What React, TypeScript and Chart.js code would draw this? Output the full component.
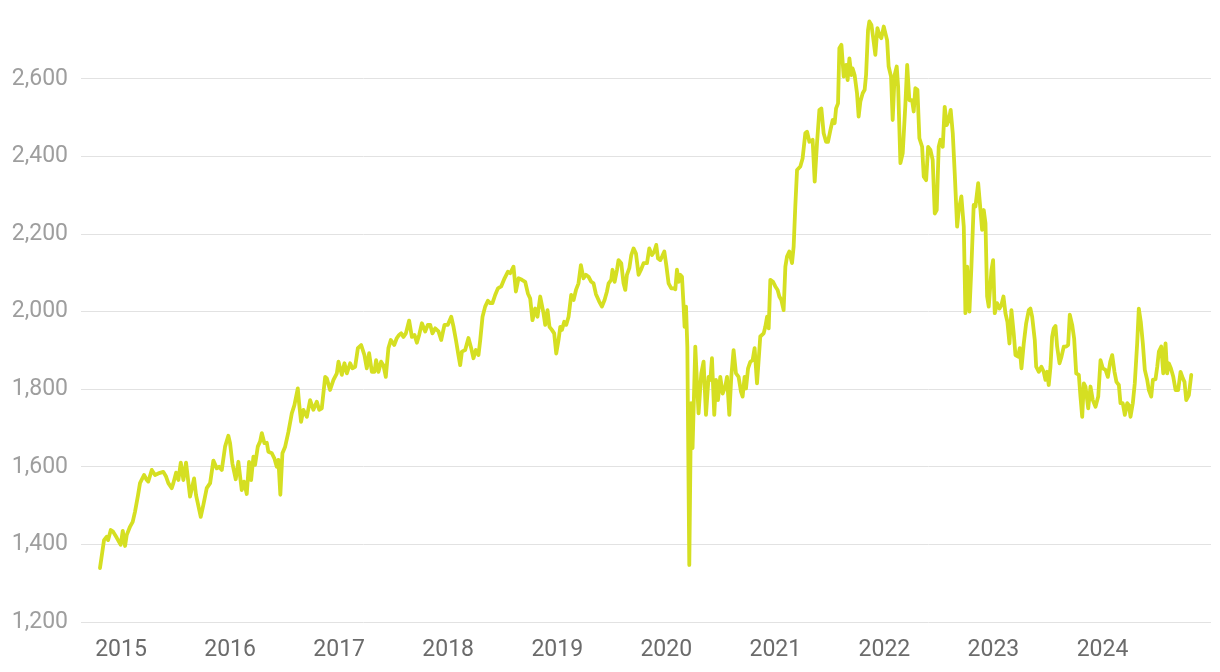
import React, { useEffect, useRef } from "react";
import { Chart, registerables } from "chart.js";

Chart.register(...registerables);

// Dates are decimal years (weekly observations), values are index levels.
const dates2015 = [
  2014.807, 2014.844, 2014.869, 2014.881, 2014.906, 2014.927, 2014.961, 2014.997,
  2015.016, 2015.037, 2015.052, 2015.083, 2015.107, 2015.128, 2015.156, 2015.174, 2015.211, 2015.236,
  2015.250, 2015.282, 2015.312, 2015.342, 2015.388, 2015.413, 2015.434, 2015.465, 2015.480, 2015.505,
  2015.526, 2015.548, 2015.572, 2015.596, 2015.633, 2015.670, 2015.688, 2015.731, 2015.755, 2015.786,
  2015.817, 2015.847, 2015.878, 2015.899, 2015.924, 2015.954, 2015.984,
];
const values2015 = [
  1339, 1411, 1420, 1411, 1437, 1433, 1417, 1399,
  1435, 1396, 1424, 1446, 1458, 1484, 1527, 1558, 1579, 1566,
  1562, 1592, 1579, 1583, 1587, 1575, 1558, 1545, 1558, 1585,
  1566, 1611, 1566, 1611, 1523, 1570, 1527, 1471, 1502, 1545,
  1558, 1616, 1596, 1600, 1592, 1652, 1680,
];

const dates2016 = [
  2016.000, 2016.021, 2016.052, 2016.076, 2016.107, 2016.128, 2016.153, 2016.174, 2016.193, 2016.214,
  2016.229, 2016.254, 2016.275, 2016.291, 2016.315, 2016.337, 2016.351, 2016.383, 2016.406, 2016.428,
  2016.443, 2016.461, 2016.480, 2016.505, 2016.535, 2016.566, 2016.590, 2016.621, 2016.633, 2016.651,
  2016.672, 2016.704, 2016.734, 2016.764, 2016.795, 2016.817, 2016.841, 2016.872, 2016.887, 2016.917,
  2016.948, 2016.979, 2016.994,
];
const values2016 = [
  1661, 1609, 1568, 1613, 1540, 1562, 1530, 1613, 1566, 1626,
  1605, 1652, 1665, 1687, 1661, 1662, 1639, 1635, 1622, 1600,
  1618, 1528, 1635, 1652, 1690, 1738, 1759, 1802, 1764, 1716,
  1747, 1729, 1772, 1747, 1768, 1747, 1751, 1832, 1828, 1798,
  1824, 1841, 1871,
];

const dates2017 = [
  2017.025, 2017.049, 2017.071, 2017.101, 2017.122, 2017.147, 2017.172, 2017.202, 2017.232, 2017.254,
  2017.275, 2017.300, 2017.324, 2017.339, 2017.361, 2017.385, 2017.406, 2017.428, 2017.452, 2017.474,
  2017.505, 2017.529, 2017.550, 2017.569, 2017.590, 2017.612, 2017.642, 2017.667, 2017.691, 2017.713,
  2017.734, 2017.759, 2017.789, 2017.814, 2017.835, 2017.856, 2017.881, 2017.911, 2017.936, 2017.966,
  2017.997,
];
const values2017 = [
  1837, 1867, 1841, 1867, 1854, 1858, 1906, 1914, 1888, 1854,
  1893, 1845, 1845, 1875, 1845, 1871, 1862, 1832, 1906, 1927,
  1914, 1932, 1940, 1944, 1935, 1944, 1977, 1935, 1940, 1920,
  1940, 1970, 1949, 1966, 1966, 1944, 1957, 1949, 1927, 1966,
  1966,
];

const dates2018 = [
  2018.028, 2018.049, 2018.071, 2018.094, 2018.110, 2018.126, 2018.156, 2018.186, 2018.211, 2018.232,
  2018.254, 2018.278, 2018.294, 2018.315, 2018.339, 2018.364, 2018.385, 2018.406, 2018.431, 2018.456,
  2018.486, 2018.517, 2018.548, 2018.569, 2018.599, 2018.621, 2018.645, 2018.676, 2018.706, 2018.731,
  2018.752, 2018.773, 2018.798, 2018.819, 2018.844, 2018.874, 2018.890, 2018.911, 2018.929, 2018.951,
  2018.972, 2018.991,
];
const values2018 = [
  1987, 1961, 1927, 1888, 1862, 1897, 1901, 1932, 1906, 1880,
  1901, 1888, 1927, 1987, 2013, 2028, 2022, 2022, 2043, 2060,
  2065, 2086, 2103, 2099, 2116, 2052, 2086, 2082, 2077, 2047,
  2034, 1978, 2008, 1987, 2039, 1996, 1966, 2004, 1961, 1953,
  1944, 1892,
];

const dates2019 = [
  2019.012, 2019.028, 2019.043, 2019.064, 2019.083, 2019.104, 2019.128, 2019.150, 2019.172, 2019.195,
  2019.217, 2019.241, 2019.263, 2019.287, 2019.312, 2019.333, 2019.355, 2019.385, 2019.410, 2019.434,
  2019.456, 2019.471, 2019.495, 2019.507, 2019.526, 2019.548, 2019.562, 2019.587, 2019.608, 2019.624,
  2019.639, 2019.661, 2019.679, 2019.700, 2019.722, 2019.746, 2019.768, 2019.792, 2019.823, 2019.844,
  2019.869, 2019.890, 2019.908, 2019.924, 2019.945, 2019.961, 2019.982,
];
const values2019 = [
  1927, 1961, 1953, 1974, 1966, 1987, 2043, 2030, 2056, 2073,
  2120, 2086, 2095, 2090, 2077, 2073, 2045, 2026, 2013, 2030,
  2052, 2073, 2082, 2108, 2077, 2108, 2133, 2125, 2073, 2056,
  2095, 2112, 2146, 2163, 2150, 2095, 2108, 2125, 2125, 2163,
  2146, 2155, 2172, 2137, 2133, 2142, 2155,
];

const dates2020 = [
  2020.000, 2020.021, 2020.046, 2020.067, 2020.083, 2020.098, 2020.113, 2020.128, 2020.144, 2020.159,
  2020.168, 2020.181, 2020.193, 2020.211, 2020.227, 2020.241, 2020.266, 2020.282, 2020.296, 2020.321,
  2020.342, 2020.364, 2020.388, 2020.404, 2020.419, 2020.440, 2020.456, 2020.474, 2020.495, 2020.517,
  2020.541, 2020.557, 2020.578, 2020.596, 2020.617, 2020.639, 2020.663, 2020.685, 2020.700, 2020.718,
  2020.731, 2020.750, 2020.771, 2020.792, 2020.810, 2020.832, 2020.847, 2020.862, 2020.893, 2020.908,
  2020.924, 2020.939, 2020.954, 2020.979,
];
const values2020 = [
  2120, 2073, 2060, 2060, 2058, 2108, 2077, 2095, 2090, 2013,
  1961, 2013, 1910, 1347, 1764, 1648, 1910, 1815, 1738, 1841,
  1871, 1734, 1832, 1824, 1880, 1734, 1824, 1772, 1832, 1789,
  1807, 1832, 1734, 1832, 1901, 1841, 1832, 1794, 1781, 1832,
  1802, 1854, 1871, 1875, 1906, 1815, 1875, 1936, 1944, 1961,
  1987, 1957, 2082, 2077,
];

const dates2021 = [
  2021.000, 2021.021, 2021.037, 2021.055, 2021.076, 2021.092, 2021.107, 2021.128, 2021.153, 2021.168,
  2021.183, 2021.199, 2021.229, 2021.250, 2021.275, 2021.291, 2021.312, 2021.342, 2021.361, 2021.382,
  2021.404, 2021.422, 2021.443, 2021.465, 2021.483, 2021.505, 2021.526, 2021.544, 2021.557, 2021.575,
  2021.587, 2021.606, 2021.627, 2021.649, 2021.663, 2021.679, 2021.697, 2021.709, 2021.727, 2021.749,
  2021.764, 2021.780, 2021.801, 2021.819, 2021.832, 2021.850, 2021.862, 2021.881, 2021.896, 2021.917,
  2021.936, 2021.954, 2021.972, 2021.994,
];
const values2021 = [
  2065, 2056, 2039, 2030, 2004, 2116, 2142, 2155, 2125, 2168,
  2271, 2365, 2374, 2395, 2460, 2464, 2438, 2443, 2335, 2434,
  2520, 2524, 2460, 2438, 2438, 2468, 2494, 2486, 2524, 2537,
  2679, 2688, 2606, 2636, 2597, 2653, 2610, 2627, 2610, 2563,
  2503, 2542, 2563, 2572, 2610, 2726, 2748, 2739, 2709, 2662,
  2731, 2713, 2705, 2735,
];

const dates2022 = [
  2022.009, 2022.025, 2022.039, 2022.061, 2022.076, 2022.094, 2022.113, 2022.126, 2022.147, 2022.168,
  2022.193, 2022.209, 2022.229, 2022.254, 2022.269, 2022.284, 2022.303, 2022.321, 2022.346, 2022.361,
  2022.383, 2022.401, 2022.422, 2022.443, 2022.462, 2022.480, 2022.498, 2022.514, 2022.535, 2022.553,
  2022.572, 2022.590, 2022.608, 2022.627, 2022.645, 2022.667, 2022.682, 2022.706, 2022.728, 2022.743,
  2022.759, 2022.780, 2022.798, 2022.819, 2022.835, 2022.860, 2022.881, 2022.896, 2022.911, 2022.927,
  2022.942, 2022.957, 2022.982, 2022.997,
];
const values2022 = [
  2718, 2700, 2632, 2606, 2494, 2610, 2632, 2580, 2383, 2408,
  2537, 2636, 2545, 2545, 2516, 2576, 2572, 2447, 2425, 2348,
  2339, 2425, 2417, 2391, 2253, 2262, 2425, 2443, 2425, 2528,
  2481, 2494, 2520, 2460, 2357, 2219, 2262, 2297, 2219, 1996,
  2116, 2000, 2116, 2275, 2271, 2331, 2262, 2211, 2262, 2228,
  2039, 2013, 2108, 2133,
];

const dates2023 = [
  2023.012, 2023.034, 2023.055, 2023.073, 2023.092, 2023.110, 2023.128, 2023.147, 2023.165, 2023.186,
  2023.202, 2023.226, 2023.241, 2023.257, 2023.278, 2023.300, 2023.324, 2023.339, 2023.355, 2023.379,
  2023.392, 2023.416, 2023.440, 2023.461, 2023.477, 2023.492, 2023.507, 2023.523, 2023.538, 2023.553,
  2023.569, 2023.584, 2023.606, 2023.624, 2023.645, 2023.667, 2023.685, 2023.700, 2023.722, 2023.740,
  2023.759, 2023.783, 2023.798, 2023.814, 2023.829, 2023.844, 2023.869, 2023.890, 2023.911, 2023.936,
  2023.961, 2023.982,
];
const values2023 = [
  1996, 2022, 2008, 2017, 2039, 1996, 1974, 1918, 2004, 1944,
  1888, 1884, 1906, 1854, 1918, 1970, 2004, 2008, 1987, 1927,
  1858, 1845, 1858, 1845, 1824, 1845, 1811, 1858, 1935, 1957,
  1963, 1910, 1867, 1884, 1910, 1910, 1914, 1992, 1966, 1931,
  1841, 1837, 1781, 1729, 1815, 1807, 1751, 1807, 1772, 1755,
  1781, 1875,
];

const dates2024 = [
  2024.003, 2024.028, 2024.049, 2024.071, 2024.089, 2024.110, 2024.128, 2024.150, 2024.165, 2024.186,
  2024.205, 2024.227, 2024.242, 2024.257, 2024.278, 2024.296, 2024.318, 2024.333, 2024.351, 2024.370,
  2024.388, 2024.410, 2024.425, 2024.447, 2024.462, 2024.486, 2024.502, 2024.517, 2024.539, 2024.557,
  2024.578, 2024.593, 2024.608, 2024.627, 2024.649, 2024.670, 2024.694, 2024.716, 2024.737, 2024.752,
  2024.768, 2024.792, 2024.814,
];
const values2024 = [
  1854, 1850, 1832, 1871, 1888, 1845, 1819, 1811, 1764, 1764,
  1734, 1764, 1759, 1729, 1764, 1815, 1918, 2008, 1974, 1918,
  1850, 1824, 1798, 1781, 1824, 1826, 1858, 1897, 1910, 1841,
  1918, 1841, 1867, 1854, 1832, 1798, 1798, 1845, 1828, 1819,
  1772, 1785, 1837,
];

const dates = [
  ...dates2015, ...dates2016, ...dates2017, ...dates2018, ...dates2019,
  ...dates2020, ...dates2021, ...dates2022, ...dates2023, ...dates2024,
];
const values = [
  ...values2015, ...values2016, ...values2017, ...values2018, ...values2019,
  ...values2020, ...values2021, ...values2022, ...values2023, ...values2024,
];

// Axis tick values
const yearTicks = [2015, 2016, 2017, 2018, 2019, 2020, 2021, 2022, 2023, 2024];
const valueTicks = [1200, 1400, 1600, 1800, 2000, 2200, 2400, 2600];

const xMin = 2014.633;
const xMax = 2024.995;
const yMin = 1200;
const yMax = 2757;

const LINE_COLOR = "#d5df22";
const FONT = "Roboto";

export default function App() {
  const canvasRef = useRef<HTMLCanvasElement | null>(null);

  useEffect(() => {
    if (!canvasRef.current) return;
    const n = Math.min(dates.length, values.length);
    const points = [] as { x: number; y: number }[];
    for (let i = 0; i < n; i++) points.push({ x: dates[i], y: values[i] });

    const chart = new Chart(canvasRef.current, {
      type: "line",
      data: {
        datasets: [
          {
            data: points,
            borderColor: LINE_COLOR,
            backgroundColor: LINE_COLOR,
            borderWidth: 3.8,
            pointRadius: 0,
            pointHoverRadius: 0,
            tension: 0,
            fill: false,
            borderJoinStyle: "round",
            borderCapStyle: "round",
          },
        ],
      },
      options: {
        animation: false,
        responsive: true,
        maintainAspectRatio: false,
        parsing: false,
        layout: { padding: { top: 18, right: 9, bottom: 0, left: 0 } },
        plugins: {
          legend: { display: false },
          tooltip: { enabled: false },
        },
        scales: {
          x: {
            type: "linear",
            min: xMin,
            max: xMax,
            grid: { display: false },
            border: { display: false },
            afterBuildTicks: (s: any) => {
              s.ticks = yearTicks.map((v) => ({ value: v }));
            },
            ticks: {
              autoSkip: false,
              maxRotation: 0,
              padding: 6,
              color: "#6b6b6b",
              font: { family: FONT, size: 23 },
              callback: (v: any) => String(v),
            },
            afterFit: (s: any) => {
              s.height = 50;
            },
          },
          y: {
            type: "linear",
            min: yMin,
            max: yMax,
            grid: { color: "#e2e2e2", lineWidth: 1, drawTicks: false },
            border: { display: false },
            afterBuildTicks: (s: any) => {
              s.ticks = valueTicks.map((v) => ({ value: v }));
            },
            ticks: {
              autoSkip: false,
              padding: 13,
              color: "#9e9e9e",
              font: { family: FONT, size: 23 },
              callback: (v: any) => Number(v).toLocaleString("en-US"),
            },
            afterFit: (s: any) => {
              s.width = 81;
              s.paddingTop = 0;
              s.paddingBottom = 0;
            },
          },
        },
      },
    });
    return () => chart.destroy();
  }, []);

  return (
    <div style={{ position: "fixed", left: 0, top: 0, width: 1220, height: 672, background: "#fff" }}>
      <canvas ref={canvasRef} />
    </div>
  );
}
